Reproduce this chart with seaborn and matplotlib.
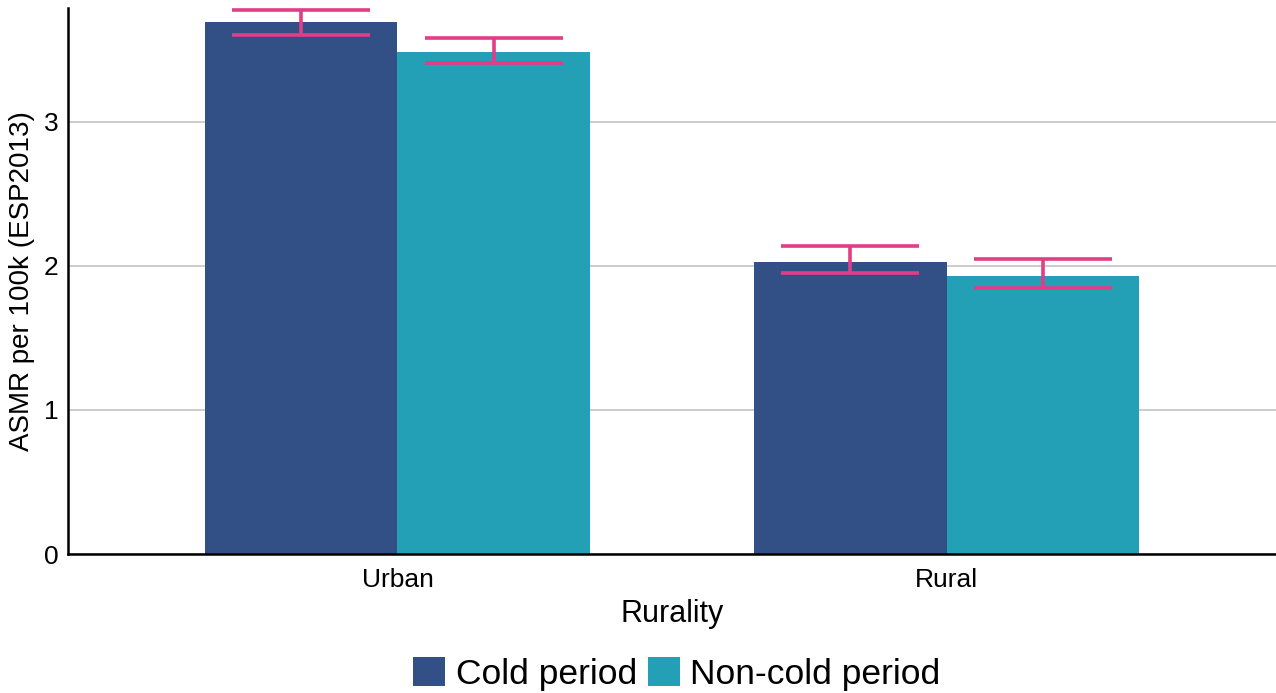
import pandas as pd
import matplotlib.pyplot as plt
import seaborn as sns
from matplotlib.patches import Patch

rurality = ['Urban', 'Rural']
periods = ['Cold period', 'Non-cold period']
cold_asmr = [3.695, 2.030]
noncold_asmr = [3.486, 1.932]
cold_lo = [3.604, 1.951]
cold_hi = [3.778, 2.139]
noncold_lo = [3.410, 1.847]
noncold_hi = [3.583, 2.049]

palette = {'Cold period': '#325086', 'Non-cold period': '#23A0B5'}
err_color = '#E23D86'

df = pd.DataFrame({
    'Rurality': rurality * 2,
    'Period': [periods[0]] * 2 + [periods[1]] * 2,
    'ASMR': cold_asmr + noncold_asmr,
    'lo': cold_lo + noncold_lo,
    'hi': cold_hi + noncold_hi,
})

sns.set_style('white')
plt.rcParams['font.family'] = ['Liberation Sans', 'DejaVu Sans']
plt.rcParams['text.color'] = 'black'
plt.rcParams['axes.labelcolor'] = 'black'

fig = plt.figure(figsize=(12.76, 6.93), dpi=100)
ax = fig.add_axes([68 / 1276, 1 - 554 / 693, 1 - 68 / 1276, (554 - 8) / 693])

sns.barplot(data=df, x='Rurality', y='ASMR', hue='Period', order=rurality,
            hue_order=periods, palette=palette, width=0.7, saturation=1,
            errorbar=None, legend=False, linewidth=0, ax=ax, zorder=2)

# error bars on top of each bar, positions taken from the drawn bars
for container, period in zip(ax.containers, periods):
    sub = df[df['Period'] == period].set_index('Rurality').loc[rurality]
    xs = [b.get_x() + b.get_width() / 2 for b in container]
    yerr = [sub['ASMR'] - sub['lo'], sub['hi'] - sub['ASMR']]
    ax.errorbar(xs, sub['ASMR'], yerr=yerr, fmt='none', ecolor=err_color,
                elinewidth=2.6, capsize=50, capthick=2.6, zorder=3)

ax.set_xlim(-0.6, 1.6)
ax.set_ylim(0, 3.79)
ax.set_yticks([0, 1, 2, 3])
ax.yaxis.grid(True, color='#C8C8C8', linewidth=1.3, zorder=0)
ax.xaxis.grid(False)
ax.set_axisbelow(True)

for side in ['top', 'right']:
    ax.spines[side].set_visible(False)
for side in ['left', 'bottom']:
    ax.spines[side].set_color('black')
    ax.spines[side].set_linewidth(1.8)

ax.tick_params(axis='both', length=3, width=1, color='#333333',
               labelsize=19, labelcolor='black', pad=4)
ax.tick_params(axis='x', pad=7)
ax.set_xlabel('Rurality', fontsize=22, labelpad=5)
ax.set_ylabel('ASMR per 100k (ESP2013)', fontsize=20, labelpad=6)

handles = [Patch(facecolor=palette[p], edgecolor='none', label=p) for p in periods]
fig.legend(handles=handles, loc='center', bbox_to_anchor=(677 / 1276, 1 - 674 / 693),
           ncol=2, frameon=False, fontsize=25.5, handlelength=0.9, handleheight=0.9,
           handletextpad=0.3, columnspacing=0.3, borderaxespad=0)

fig.savefig('out.png', dpi=100)
